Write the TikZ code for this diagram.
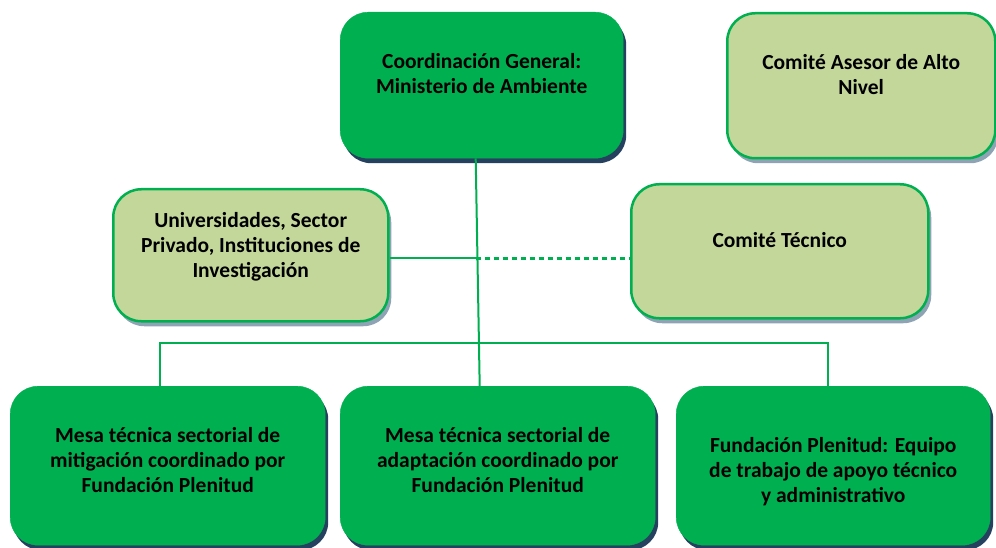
\documentclass[tikz,border=0pt]{standalone}
\usepackage{fontspec}
\setmainfont{Carlito}
\usetikzlibrary{shadows}
\definecolor{verde}{HTML}{00B050}
\definecolor{verdeclaro}{HTML}{C4D79B}
\definecolor{sombraoscura}{HTML}{26405F}
\definecolor{sombraclara}{HTML}{8EA3B4}

\begin{document}
\begin{tikzpicture}[x=1pt,y=-1pt,
    caja/.style={rectangle, rounded corners=28pt, inner sep=0pt, anchor=north west,
        align=center, font=\fontsize{21.5}{25}\selectfont\bfseries},
    cajaoscura/.style={caja, fill=verde, draw=verde,
        drop shadow={shadow xshift=3pt, shadow yshift=-5pt, fill=sombraoscura, opacity=1}},
    cajaclara/.style={caja, fill=verdeclaro, draw=verde, line width=2.5pt,
        drop shadow={shadow xshift=3pt, shadow yshift=-5pt, fill=sombraclara, opacity=1}},
    enlace/.style={draw=verde, line width=2pt},
    punteado/.style={draw=verde, line width=3.5pt, dash pattern=on 5pt off 4pt}]
                \useasboundingbox (0,0) rectangle (996,548);

                \node[cajaoscura, minimum width=283pt, text height=81pt, text depth=65pt] (coord) at (340,12)
                    {Coordinación General:\\Ministerio de Ambiente};
                \node[cajaclara, minimum width=268pt, text height=81pt, text depth=64pt] (asesor) at (726,12)
                    {Comité Asesor de Alto\\Nivel};
                \node[cajaclara, minimum width=275pt, text height=88pt, text depth=44pt] (univ) at (112,188)
                    {Universidades, Sector\\Privado, Instituciones de\\Investigación};
                \node[cajaclara, minimum width=297pt, text height=63pt, text depth=71pt] (tecnico) at (630,183)
                    {Comité Técnico};
                \node[cajaoscura, minimum width=315pt, text height=106pt, text depth=53pt] (mitig) at (10,386)
                    {Mesa técnica sectorial de\\mitigación coordinado por\\Fundación Plenitud};
                \node[cajaoscura, minimum width=315pt, text height=106pt, text depth=53pt] (adapt) at (340,386)
                    {Mesa técnica sectorial de\\adaptación coordinado por\\Fundación Plenitud};
                \node[cajaoscura, minimum width=314pt, text height=116pt, text depth=43pt] (fund) at (676,386)
                    {Fundación Plenitud: Equipo\\de trabajo de apoyo técnico\\y administrativo};

                \coordinate (troncoA) at ([xshift=-6pt]coord.south);
                \coordinate (troncoB) at ([xshift=-18pt]adapt.north);
                \coordinate (cruce) at (univ.east -| troncoA);
                \coordinate (busL) at (160,343);
                \coordinate (busR) at (828,343);

                \draw[enlace] (troncoA) -- (troncoB);
                \draw[enlace] ([yshift=-3pt]univ.east) -- ([yshift=-3pt]cruce);
                \draw[punteado] ([yshift=-3pt]cruce) -- ([yshift=-3pt]cruce -| tecnico.west);
                \draw[enlace] (mitig.north -| busL) -- (busL) -- (busR) -- (fund.north -| busR);
\end{tikzpicture}
\end{document}
